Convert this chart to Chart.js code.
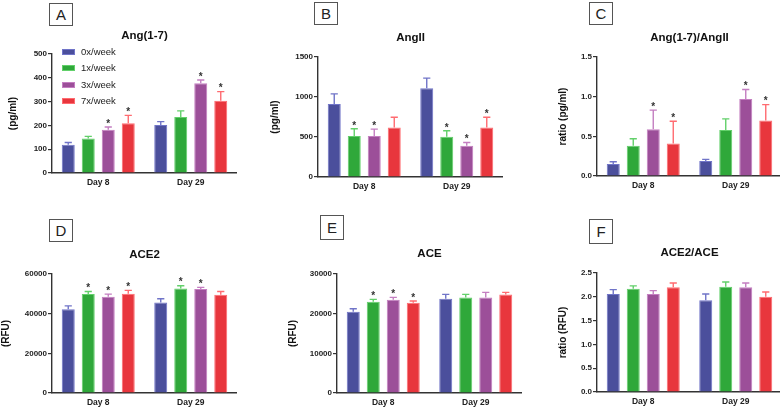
<!DOCTYPE html>
<html><head><meta charset="utf-8">
<script src="https://cdn.jsdelivr.net/npm/chart.js@4.4.1/dist/chart.umd.min.js"></script>
<style>
body{margin:0;background:#fff;width:780px;height:409px;overflow:hidden;position:relative;font-family:'Liberation Sans',Arial,sans-serif;}
canvas{position:absolute;}
.box{position:absolute;border:1px solid #555;background:#fff;font-size:15px;line-height:21px;text-align:center;color:#222;box-sizing:border-box;}
.leg{position:absolute;font-size:9.5px;color:#222;white-space:nowrap;}
.sw{position:absolute;width:13px;height:6px;box-sizing:border-box;border:1px solid;}
</style></head><body>
<script>
// ---- data ----
const days = ['Day 8', 'Day 29'];
const groups = ['0x/week', '1x/week', '3x/week', '7x/week'];
const fillColors = ['#4b4f9c', '#2fa83a', '#9c4f99', '#e8363d'];
const edgeColors = ['#7074c8', '#62d06a', '#c47ec1', '#ff6b70'];

// rows = groups (0x,1x,3x,7x), columns = days (Day 8, Day 29)
const ang17Mean = [[119, 202], [145, 235], [182, 377], [209, 304]];
const ang17Sem  = [[9, 14], [9, 26], [11, 14], [33, 38]];
const ang17Sig  = [[0, 0], [0, 0], [1, 1], [1, 1]];
const ang17Ticks = [0, 100, 200, 300, 400, 500];

const angIIMean = [[913, 1110], [511, 503], [511, 390], [620, 620]];
const angIISem  = [[126, 126], [92, 75], [88, 41], [126, 126]];
const angIISig  = [[0, 0], [1, 1], [1, 1], [0, 1]];
const angIITicks = [0, 500, 1000, 1500];

const ratioAngMean = [[0.15, 0.19], [0.38, 0.58], [0.59, 0.97], [0.41, 0.70]];
const ratioAngSem  = [[0.03, 0.02], [0.09, 0.14], [0.24, 0.12], [0.28, 0.20]];
const ratioAngSig  = [[0, 0], [0, 0], [1, 1], [1, 1]];
const ratioAngTicks = [0.0, 0.5, 1.0, 1.5];

const ace2Mean = [[42250, 45630], [49860, 52730], [48500, 52390], [50030, 49520]];
const ace2Sem  = [[1700, 1860], [1350, 1350], [1360, 850], [1690, 1690]];
const ace2Sig  = [[0, 0], [1, 1], [1, 1], [1, 0]];
const ace2Ticks = [0, 20000, 40000, 60000];

const aceMean = [[20480, 23760], [23010, 24100], [23510, 24100], [22750, 24860]];
const aceSem  = [[760, 1100], [590, 760], [590, 1270], [430, 510]];
const aceSig  = [[0, 0], [1, 0], [1, 0], [1, 0]];
const aceTicks = [0, 10000, 20000, 30000];

const ratioAceMean = [[2.06, 1.93], [2.17, 2.21], [2.06, 2.20], [2.20, 2.00]];
const ratioAceSem  = [[0.09, 0.13], [0.06, 0.10], [0.07, 0.09], [0.09, 0.10]];
const ratioAceSig  = [[0, 0], [0, 0], [0, 0], [0, 0]];
const ratioAceTicks = [0.0, 0.5, 1.0, 1.5, 2.0, 2.5];

// ---- panel layout (positions/styles only) ----
const panels = [
  {letter:'A', title:'Ang(1-7)', yTitle:'(pg/ml)', mean:ang17Mean, sem:ang17Sem, sig:ang17Sig, ticks:ang17Ticks, dec:0,
   cl:7, ct:0, cw:230, ch:193, yw:45, tpTop:29.4, tpBot:11.4, box:[49,3,24,23]},
  {letter:'B', title:'AngII', yTitle:'(pg/ml)', mean:angIIMean, sem:angIISem, sig:angIISig, ticks:angIITicks, dec:0,
   cl:269, ct:0, cw:234, ch:197, yw:49, tpTop:31.4, tpBot:12.4, box:[314,2,24,23]},
  {letter:'C', title:'Ang(1-7)/AngII', yTitle:'ratio (pg/ml)', mean:ratioAngMean, sem:ratioAngSem, sig:ratioAngSig, ticks:ratioAngTicks, dec:1,
   cl:557, ct:0, cw:225, ch:196, yw:40, tpTop:31.4, tpBot:12.4, box:[589,2,24,23]},
  {letter:'D', title:'ACE2', yTitle:'(RFU)', mean:ace2Mean, sem:ace2Sem, sig:ace2Sig, ticks:ace2Ticks, dec:0,
   cl:0, ct:205, cw:237, ch:208, yw:52, tpTop:43.4, tpBot:12.4, box:[49,219,24,23]},
  {letter:'E', title:'ACE', yTitle:'(RFU)', mean:aceMean, sem:aceSem, sig:aceSig, ticks:aceTicks, dec:0,
   cl:287, ct:205, cw:235, ch:208, yw:50, tpTop:42.4, tpBot:13.4, box:[320,215,24,25]},
  {letter:'F', title:'ACE2/ACE', yTitle:'ratio (RFU)', mean:ratioAceMean, sem:ratioAceSem, sig:ratioAceSig, ticks:ratioAceTicks, dec:1,
   cl:557, ct:205, cw:225, ch:207, yw:40, tpTop:41.4, tpBot:13.4, box:[589,219,24,25]}
];

const FONT = "'Liberation Sans', Arial, sans-serif";
const AX = '#333';

const errPlugin = {
  id: 'errStars',
  afterDatasetsDraw(chart) {
    const ctx = chart.ctx;
    const yScale = chart.scales.y;
    chart.data.datasets.forEach((ds, i) => {
      const meta = chart.getDatasetMeta(i);
      meta.data.forEach((bar, j) => {
        const yT = yScale.getPixelForValue(ds.data[j] + ds.sem[j]);
        ctx.save();
        ctx.strokeStyle = ds.errColor;
        ctx.lineWidth = 1.4;
        ctx.beginPath();
        ctx.moveTo(bar.x, bar.y);
        ctx.lineTo(bar.x, yT);
        ctx.moveTo(bar.x - 3.6, yT);
        ctx.lineTo(bar.x + 3.6, yT);
        ctx.stroke();
        if (ds.sig[j]) {
          ctx.fillStyle = '#333';
          ctx.font = 'bold 10px ' + FONT;
          ctx.textAlign = 'center';
          ctx.textBaseline = 'middle';
          ctx.fillText('*', bar.x, yT - 3);
        }
        ctx.restore();
      });
    });
  }
};

panels.forEach(p => {
  const cv = document.createElement('canvas');
  cv.width = p.cw; cv.height = p.ch;
  cv.style.left = p.cl + 'px'; cv.style.top = p.ct + 'px';
  cv.style.width = p.cw + 'px'; cv.style.height = p.ch + 'px';
  document.body.appendChild(cv);

  const b = document.createElement('div');
  b.className = 'box';
  b.textContent = p.letter;
  b.style.left = p.box[0] + 'px'; b.style.top = p.box[1] + 'px';
  b.style.width = p.box[2] + 'px'; b.style.height = p.box[3] + 'px';
  b.style.lineHeight = (p.box[3] - 2) + 'px';
  document.body.appendChild(b);

  const datasets = groups.map((g, i) => ({
    label: g,
    data: p.mean[i],
    sem: p.sem[i],
    sig: p.sig[i],
    backgroundColor: fillColors[i],
    borderColor: edgeColors[i],
    errColor: edgeColors[i],
    borderWidth: 1,
    barPercentage: 0.65,
    categoryPercentage: 0.865
  }));

  new Chart(cv, {
    type: 'bar',
    data: { labels: days, datasets },
    plugins: [errPlugin],
    options: {
      responsive: false,
      animation: false,
      devicePixelRatio: 1,
      layout: { padding: 0 },
      plugins: {
        legend: { display: false },
        tooltip: { enabled: false },
        title: {
          display: true, text: p.title, fullSize: false, color: '#111',
          font: { family: FONT, size: 11.5, weight: 'bold' },
          padding: { top: p.tpTop - 0.3, bottom: p.tpBot - 0.3 }
        }
      },
      scales: {
        x: {
          afterFit: s => { s.height = 20; },
          grid: { display: false, drawTicks: false },
          border: { display: true, color: AX, width: 1.4 },
          ticks: { color: '#222', padding: 5, font: { family: FONT, size: 8.5, weight: 'bold' } }
        },
        y: {
          min: p.ticks[0], max: p.ticks[p.ticks.length - 1],
          afterFit: s => { s.width = p.yw; },
          afterBuildTicks: s => { s.ticks = p.ticks.map(v => ({ value: v })); },
          grid: { drawOnChartArea: false, drawTicks: true, tickLength: 4, color: AX, lineWidth: 1.2 },
          border: { display: true, color: AX, width: 1.4 },
          ticks: { color: '#222', padding: 1, font: { family: FONT, size: 8, weight: 'bold' },
                   callback: v => Number(v).toFixed(p.dec) },
          title: { display: true, text: p.yTitle, color: '#111', padding: 0,
                   font: { family: FONT, size: 10, weight: 'bold' } }
        }
      }
    }
  });
});

// legend (panel A)
groups.forEach((g, i) => {
  const cy = 52 + i * 16.3;
  const sw = document.createElement('div');
  sw.className = 'sw';
  sw.style.left = '62px'; sw.style.top = (cy - 3) + 'px';
  sw.style.background = fillColors[i]; sw.style.borderColor = edgeColors[i];
  document.body.appendChild(sw);
  const t = document.createElement('div');
  t.className = 'leg';
  t.textContent = g;
  t.style.left = '81px'; t.style.top = (cy - 6) + 'px';
  t.style.lineHeight = '12px';
  document.body.appendChild(t);
});
</script>
</body></html>
